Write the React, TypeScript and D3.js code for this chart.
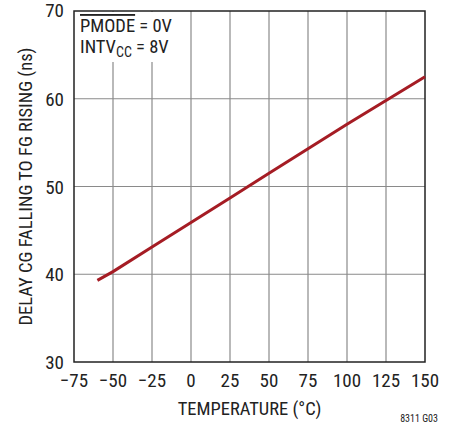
import { useEffect, useRef } from "react"
import * as d3 from "d3"

// temperature (°C) and delay (ns)
const temps = [-60, -50, -25, 0, 25, 50, 75, 100, 125, 150]
const delays = [39.3, 40.3, 43.1, 45.9, 48.7, 51.5, 54.3, 57.1, 59.8, 62.5]

const xTicks = [-75, -50, -25, 0, 25, 50, 75, 100, 125, 150]
const yTicks = [30, 40, 50, 60, 70]

const FONT = "'Liberation Sans Narrow', 'Arial Narrow', 'Roboto Condensed', sans-serif"

export default function App() {
  const svgRef = useRef<SVGSVGElement>(null)
  const width = 454
  const height = 427

  useEffect(() => {
    if (!svgRef.current) return
    const svg = d3.select(svgRef.current)
    svg.selectAll("*").remove()

    const left = 74, right = 425, top = 11, bottom = 362

    const x = d3.scaleLinear().domain([-75, 150]).range([left, right])
    const y = d3.scaleLinear().domain([30, 70]).range([bottom, top])

    // grid
    svg
      .append("g")
      .selectAll("line")
      .data(xTicks.slice(1, -1))
      .enter()
      .append("line")
      .attr("x1", (d) => x(d))
      .attr("x2", (d) => x(d))
      .attr("y1", top)
      .attr("y2", bottom)
      .attr("stroke", "#8a8a8a")
      .attr("stroke-width", 1.2)

    svg
      .append("g")
      .selectAll("line")
      .data(yTicks.slice(1, -1))
      .enter()
      .append("line")
      .attr("x1", left)
      .attr("x2", right)
      .attr("y1", (d) => y(d))
      .attr("y2", (d) => y(d))
      .attr("stroke", "#8a8a8a")
      .attr("stroke-width", 1.2)

    // white box behind the annotation
    svg
      .append("rect")
      .attr("x", left + 1)
      .attr("y", top + 1)
      .attr("width", 100)
      .attr("height", 50)
      .attr("fill", "#fff")

    // frame
    svg
      .append("rect")
      .attr("x", left)
      .attr("y", top)
      .attr("width", right - left)
      .attr("height", bottom - top)
      .attr("fill", "none")
      .attr("stroke", "#222")
      .attr("stroke-width", 1.5)

    // curve
    const line = d3
      .line<number>()
      .x((d, i) => x(temps[i]))
      .y((d) => y(d))
    svg
      .append("path")
      .attr("d", line(delays))
      .attr("fill", "none")
      .attr("stroke", "#a51c24")
      .attr("stroke-width", 3)

    // tick labels
    svg
      .append("g")
      .selectAll("text")
      .data(xTicks)
      .enter()
      .append("text")
      .attr("x", (d) => x(d))
      .attr("y", bottom + 25)
      .attr("text-anchor", "middle")
      .attr("font-family", FONT)
      .attr("font-size", 19)
      .attr("fill", "#222")
      .text((d) => (d < 0 ? "\u2212" + Math.abs(d) : String(d)))

    svg
      .append("g")
      .selectAll("text")
      .data(yTicks)
      .enter()
      .append("text")
      .attr("x", left - 10)
      .attr("y", (d) => (d === 70 ? y(d) + 6 : y(d) + 7))
      .attr("text-anchor", "end")
      .attr("font-family", FONT)
      .attr("font-size", 19)
      .attr("fill", "#222")
      .text((d) => d)

    // axis titles
    svg
      .append("text")
      .attr("x", (left + right) / 2)
      .attr("y", 415)
      .attr("text-anchor", "middle")
      .attr("font-family", FONT)
      .attr("font-size", 18.5)
      .attr("fill", "#222")
      .text("TEMPERATURE (°C)")

    svg
      .append("text")
      .attr("transform", `translate(32,${(top + bottom) / 2}) rotate(-90)`)
      .attr("text-anchor", "middle")
      .attr("font-family", FONT)
      .attr("font-size", 18.5)
      .attr("fill", "#222")
      .text("DELAY CG FALLING TO FG RISING (ns)")

    svg
      .append("text")
      .attr("x", 438)
      .attr("y", 422)
      .attr("text-anchor", "end")
      .attr("font-family", FONT)
      .attr("font-size", 10)
      .attr("fill", "#222")
      .text("8311 G03")

    // annotation
    const t1 = svg
      .append("text")
      .attr("x", left + 6)
      .attr("y", 32)
      .attr("font-family", FONT)
      .attr("font-size", 18.5)
      .attr("fill", "#222")
    t1.append("tspan").attr("text-decoration", "overline").text("PMODE")
    t1.append("tspan").text(" = 0V")

    const t2 = svg
      .append("text")
      .attr("x", left + 6)
      .attr("y", 53)
      .attr("font-family", FONT)
      .attr("font-size", 18.5)
      .attr("fill", "#222")
    t2.append("tspan").text("INTV")
    t2.append("tspan").attr("font-size", 14).attr("dy", 4).text("CC")
    t2.append("tspan").attr("dy", -4).text(" = 8V")
  }, [])

  return (
    <svg
      ref={svgRef}
      width={width}
      height={height}
      style={{ position: "absolute", left: 0, top: 0, background: "#fff" }}
    />
  )
}
